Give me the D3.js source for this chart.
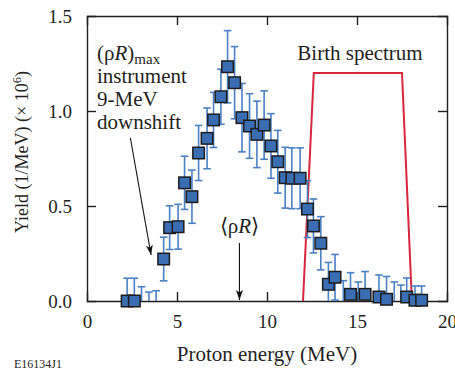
<!DOCTYPE html>
<html>
<head>
<meta charset="utf-8">
<script src="https://cdn.jsdelivr.net/npm/d3@7"></script>
<style>
  html, body { margin: 0; padding: 0; background: #fff; }
  svg { display: block; }
  text { font-family: "Liberation Serif", "Times New Roman", serif; fill: #231f20; }
</style>
</head>
<body>
<svg id="chart" width="455" height="374"></svg>
<script>
// Measured proton spectrum (energy in MeV, yield in 1e6 / MeV, 1-sigma error)
const energy = [2.23, 2.63, 3.03, 3.44, 3.84, 4.26, 4.59, 5.06, 5.42, 5.83,
                6.20, 6.67, 7.03, 7.44, 7.81, 8.20, 8.61, 9.03, 9.44, 9.84,
                10.22, 10.60, 11.01, 11.38, 11.84, 12.25, 12.58, 12.99, 13.41, 13.78,
                14.24, 14.64, 15.07, 15.45, 16.22, 16.64, 17.07, 17.44, 17.76, 18.22, 18.59];
const yieldValues = [0, 0, -0.05, -0.05, -0.05, 0.221, 0.386, 0.391, 0.622, 0.549,
                     0.779, 0.856, 0.953, 1.075, 1.233, 1.149, 0.965, 0.921, 0.877, 0.926,
                     0.816, 0.733, 0.649, 0.646, 0.646, 0.484, 0.395, 0.304, 0.088, 0.125,
                     -0.04, 0.035, -0.04, 0.035, 0.021, 0.009, -0.04, -0.04, 0.021, 0.004, 0.004];
const yieldErrors = [0.12, 0.12, 0.125, 0.097, 0.104, 0.115, 0.115, 0.118, 0.14, 0.14,
                     0.145, 0.16, 0.145, 0.145, 0.19, 0.19, 0.18, 0.17, 0.175, 0.18,
                     0.17, 0.165, 0.16, 0.16, 0.16, 0.15, 0.142, 0.14, 0.115, 0.12,
                     0.147, 0.114, 0.14, 0.12, 0.116, 0.12, 0.14, 0.124, 0.10, 0.075, 0.075];

// Birth spectrum outline (trapezoid)
const birthEnergy = [12.0, 12.6, 17.5, 18.05];
const birthYield = [0, 1.2, 1.2, 0];

// Axis ticks
const xTicks = [0, 5, 10, 15, 20];
const yTicks = [0, 0.5, 1.0, 1.5];
const yTickLabels = ["0.0", "0.5", "1.0", "1.5"];

const svg = d3.select("#chart");
const L = 87, R = 447, T = 16, B = 301;

const x = d3.scaleLinear().domain([0, 20]).range([L, R]);
const y = d3.scaleLinear().domain([0, 1.5]).range([B, T]);

const points = energy.map((e, i) => ({ e, v: yieldValues[i], err: yieldErrors[i] }));

svg.append("defs").append("clipPath").attr("id", "plotClip")
  .append("rect").attr("x", L).attr("y", T).attr("width", R - L).attr("height", B - T);

const axisColor = "#231f20";

// Axes: inward ticks on all four sides
const tickLen = 9;
const bottomAxis = d3.axisBottom(x).tickValues(xTicks).tickSize(-tickLen).tickFormat(d3.format("d")).tickPadding(14);
const gB = svg.append("g").attr("transform", `translate(0,${B})`).call(bottomAxis);
const topAxis = d3.axisTop(x).tickValues([5, 10, 15]).tickSize(-tickLen).tickFormat("");
const gT = svg.append("g").attr("transform", `translate(0,${T})`).call(topAxis);
const leftAxis = d3.axisLeft(y).tickValues(yTicks).tickSize(-tickLen)
  .tickFormat((d, i) => yTickLabels[i]).tickPadding(15);
const gL = svg.append("g").attr("transform", `translate(${L},0)`).call(leftAxis);
const rightAxis = d3.axisRight(y).tickValues([0.5, 1.0]).tickSize(-tickLen).tickFormat("");
const gR = svg.append("g").attr("transform", `translate(${R},0)`).call(rightAxis);

[gB, gT, gL, gR].forEach(g => {
  g.select(".domain").attr("stroke", axisColor).attr("stroke-width", 1.4);
  g.selectAll(".tick line").attr("stroke", axisColor).attr("stroke-width", 1.4);
  g.selectAll("text").style("font-family", "'Liberation Serif', serif")
    .style("font-size", "19px").attr("fill", axisColor);
});
gB.selectAll(".tick").filter(d => d === 0 || d === 20).select("line").remove();
gL.selectAll(".tick").filter(d => d === 0 || d === 1.5).select("line").remove();
gL.selectAll("text").attr("dy", "0.34em");

// Birth spectrum
svg.append("path")
  .datum(birthEnergy.map((e, i) => [e, birthYield[i]]))
  .attr("clip-path", "url(#plotClip)")
  .attr("fill", "none").attr("stroke", "#d7263d").attr("stroke-width", 2)
  .attr("stroke-linejoin", "miter")
  .attr("d", d3.line().x(d => x(d[0])).y(d => y(d[1])));

// Error bars
const barColor = "#4a80c4";
const capW = 3.8;
const bars = svg.append("g").attr("clip-path", "url(#plotClip)")
  .attr("stroke", barColor).attr("stroke-width", 1.6).attr("fill", "none");
const barG = bars.selectAll("g").data(points).join("g");
barG.append("line")
  .attr("x1", d => x(d.e)).attr("x2", d => x(d.e))
  .attr("y1", d => y(d.v - d.err)).attr("y2", d => y(d.v + d.err));
barG.append("line")
  .attr("x1", d => x(d.e) - capW).attr("x2", d => x(d.e) + capW)
  .attr("y1", d => y(d.v + d.err)).attr("y2", d => y(d.v + d.err));
barG.append("line")
  .attr("x1", d => x(d.e) - capW).attr("x2", d => x(d.e) + capW)
  .attr("y1", d => y(d.v - d.err)).attr("y2", d => y(d.v - d.err));

// Markers (only those inside the plotted range)
const sq = 11.5;
svg.append("g").selectAll("rect")
  .data(points.filter(d => d.v >= 0))
  .join("rect")
  .attr("x", d => x(d.e) - sq / 2).attr("y", d => y(d.v) - sq / 2)
  .attr("width", sq).attr("height", sq)
  .attr("fill", "#3b6db3").attr("stroke", "#1c1c1c").attr("stroke-width", 1.5);

// Arrowhead marker
svg.select("defs").append("marker")
  .attr("id", "arrow").attr("viewBox", "0 0 10 10")
  .attr("refX", 10).attr("refY", 5)
  .attr("markerWidth", 10).attr("markerHeight", 10)
  .attr("markerUnits", "userSpaceOnUse")
  .attr("orient", "auto")
  .append("path").attr("d", "M0,1.5 L10,5 L0,8.5 L2.5,5 Z").attr("fill", "#111");

// Annotation: (ρR)max instrument 9-MeV downshift
const ann = svg.append("text").attr("x", 97).attr("y", 59.5).style("font-size", "21px");
ann.append("tspan").text("(ρ");
ann.append("tspan").style("font-style", "italic").text("R");
ann.append("tspan").text(")");
ann.append("tspan").attr("dy", 4).style("font-size", "15px").text("max");
["instrument", "9-MeV", "downshift"].forEach((s, i) => {
  svg.append("text").attr("x", 97).attr("y", 83 + i * 23).style("font-size", "21px").text(s);
});
svg.append("line")
  .attr("x1", x(2.41)).attr("y1", y(0.858))
  .attr("x2", x(3.56)).attr("y2", y(0.242))
  .attr("stroke", "#111").attr("stroke-width", 1.1)
  .attr("marker-end", "url(#arrow)");

// Annotation: <ρR>
const mean = svg.append("text").attr("x", x(8.47)).attr("y", 232.5)
  .attr("text-anchor", "middle").style("font-size", "21px");
mean.append("tspan").text("⟨ρ");
mean.append("tspan").style("font-style", "italic").text("R");
mean.append("tspan").text("⟩");
svg.append("line")
  .attr("x1", x(8.47)).attr("y1", y(0.305))
  .attr("x2", x(8.47)).attr("y2", y(0.005))
  .attr("stroke", "#111").attr("stroke-width", 1.1)
  .attr("marker-end", "url(#arrow)");

// Birth spectrum label
svg.append("text").attr("x", 360).attr("y", 60).attr("text-anchor", "middle")
  .style("font-size", "21px").text("Birth spectrum");

// Axis titles
svg.append("text").attr("x", (L + R) / 2).attr("y", 361).attr("text-anchor", "middle")
  .style("font-size", "21px").text("Proton energy (MeV)");
const yt = svg.append("text").attr("transform", "translate(28,152) rotate(-90)")
  .attr("text-anchor", "middle").style("font-size", "18px");
yt.append("tspan").text("Yield (1/MeV) (× 10");
yt.append("tspan").attr("dy", -7).style("font-size", "12.5px").text("6");
yt.append("tspan").attr("dy", 7).text(")");

// Figure id
svg.append("text").attr("x", 14).attr("y", 368).style("font-size", "12px").text("E16134J1");
</script>
</body>
</html>
